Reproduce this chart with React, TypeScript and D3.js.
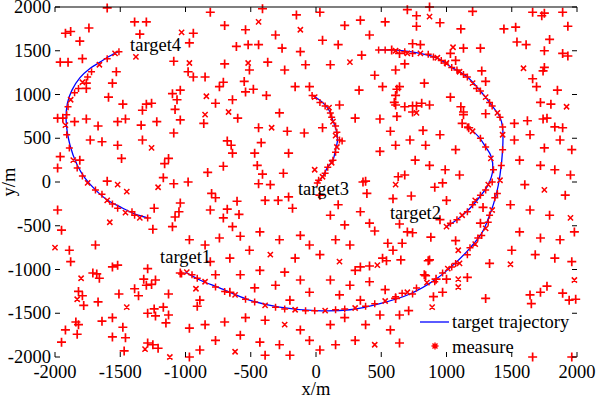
import React from "react";
import * as d3 from "d3";

const W = 596;
const H = 396;
const X_TICKS = [-2000, -1500, -1000, -500, 0, 500, 1000, 1500, 2000];
const Y_TICKS = [-2000, -1500, -1000, -500, 0, 500, 1000, 1500, 2000];

// true trajectories
const TRAJ1: [number, number][] = [
  [-1000, -1030], [-890, -1120], [-740, -1210], [-510, -1350], [-280, -1430], [0, -1470], [260, -1460],
  [490, -1390], [720, -1280], [910, -1120], [1065, -930], [1180, -755], [1270, -585], [1330, -380],
  [1380, -150], [1410, 80], [1430, 370], [1430, 620], [1410, 740], [1350, 870], [1260, 1040],
  [1160, 1200], [1040, 1310], [930, 1415], [800, 1470], [640, 1505], [490, 1510],
];
const TRAJ2: [number, number][] = [
  [1000, -510], [1090, -420], [1180, -300], [1260, -160], [1320, -30], [1355, 140], [1340, 300],
  [1300, 400], [1250, 510], [1165, 630],
];
const TRAJ3: [number, number][] = [
  [10, -10], [50, 60], [90, 170], [130, 250], [150, 370], [165, 480], [155, 590], [130, 700],
  [100, 820], [50, 910], [-30, 995],
];
const TRAJ4: [number, number][] = [
  [-1290, -410], [-1390, -365], [-1500, -285], [-1600, -205], [-1690, -90], [-1770, 45], [-1830, 195],
  [-1885, 420], [-1915, 710], [-1905, 900], [-1870, 1050], [-1810, 1190], [-1730, 1300], [-1655, 1370],
  [-1580, 1440], [-1515, 1490],
];

// measurements originating from targets
const DETECTIONS: [number, number][] = [
  [-1540, 1470], [-1510, 1490], [-1600, 1410], [-1660, 1340], [-1720, 1260], [-1750, 1200], [-1790, 1140],
  [-1820, 1070], [-1850, 1020], [-1880, 940], [-1900, 860], [-1910, 770], [-1920, 650], [-1910, 540],
  [-1890, 390], [-1860, 250], [-1830, 160], [-1790, 70], [-1750, -10], [-1690, -90], [-1640, -140],
  [-1600, -210], [-1560, -250], [-1520, -300], [-1460, -350], [-1410, -340], [-1390, -380], [-1350, -410],
  [-1290, -410],
  [-30, 990], [-10, 970], [30, 910], [70, 870], [100, 850], [110, 790], [120, 740], [130, 690], [150, 640],
  [160, 570], [150, 530], [180, 480], [200, 470], [160, 400], [150, 340], [130, 250], [120, 220], [90, 170],
  [70, 100], [50, 60], [20, 20], [10, -10],
  [1000, -510], [1030, -470], [1080, -430], [1120, -380], [1160, -340], [1200, -260], [1220, -210],
  [1260, -150], [1300, -90], [1320, -30], [1350, 0], [1360, 140], [1340, 270], [1300, 400], [1260, 500],
  [1200, 580], [1160, 630],
  [-1030, -1050], [-990, -1030], [-950, -1060], [-910, -1100], [-850, -1140], [-770, -1200], [-700, -1250],
  [-620, -1290], [-540, -1340], [-470, -1370], [-390, -1410], [-310, -1430], [-240, -1450], [-160, -1460],
  [-80, -1470], [-10, -1470], [70, -1470], [150, -1460], [220, -1450], [300, -1440], [380, -1420],
  [450, -1390], [530, -1360], [610, -1310], [660, -1270], [700, -1260], [740, -1280], [770, -1210],
  [850, -1150], [910, -1140], [970, -1040], [1010, -990], [1040, -970], [1070, -930], [1100, -930],
  [1160, -830], [1180, -750], [1220, -710], [1240, -640], [1270, -610], [1300, -530], [1320, -460],
  [1330, -380], [1350, -320], [1370, -180], [1390, -130], [1410, 20], [1420, 190], [1430, 370], [1430, 540],
  [1430, 630], [1410, 740], [1390, 790], [1350, 870], [1330, 910], [1300, 970], [1260, 1040], [1230, 1070],
  [1200, 1130], [1160, 1200], [1130, 1230], [1100, 1260], [1080, 1280], [1040, 1310], [1000, 1360],
  [990, 1360], [960, 1390], [930, 1420], [900, 1430], [860, 1460], [800, 1470], [740, 1470], [680, 1490],
  [610, 1500], [530, 1510], [480, 1510],
];

// clutter (false alarms) drawn as "+"
const CLUTTER_PLUS: [number, number][] = [
  [-1600, 1990], [-1390, 1830], [-1300, 1830], [-940, 1700], [-1920, 1700], [-1880, 1720], [-1740, 1760],
  [-1350, 1690], [-1810, 1610], [-970, 1590], [-1960, 1370], [-1900, 1370], [-1790, 1410], [-1090, 1380],
  [-610, 1550], [-520, 1570], [-700, 1350], [-1530, 1260], [-980, 1260], [-940, 1200], [-850, 1200],
  [-1560, 1130], [-1760, 1130], [-1760, 1070], [-550, 1150], [-710, 1140], [-740, 1090], [-1040, 1050],
  [-1100, 1010], [-1590, 970], [-1065, 940], [-770, 900], [-640, 940], [-540, 1030], [-1480, 890],
  [-1300, 890], [-1260, 900], [-1330, 820], [-1080, 830], [-600, 730], [-1980, 730], [-1940, 730],
  [-1850, 690], [-1760, 720], [-1670, 640], [-1520, 690], [-1460, 720], [-1340, 650], [-1220, 690],
  [-1040, 710], [-860, 670], [-1640, 460], [-1520, 420], [-1330, 480], [-1090, 560], [-680, 470],
  [-650, 420], [-640, 330], [-1490, 270], [-1130, 270], [-1160, 210], [-710, 180], [-830, 110],
  [-1600, 10], [-1170, 50], [-1090, -20], [-980, 0], [-800, -130], [-770, -180], [-605, -220],
  [-1040, -240], [-1050, -340], [-1240, -300], [-810, -320], [-680, -310], [-590, -370], [-1080, -400],
  [-710, -410], [-640, -510], [-1250, -540], [-1100, -510],
  [-1960, 290], [-1980, 160], [-1980, -320], [-1730, 480], [-1810, 250], [-1690, -720], [-1890, -780],
  [-1950, -550],
  [-1880, -910], [-1710, -1040], [-1680, -1050], [-1660, -1100], [-1560, -970], [-1520, -950],
  [-1290, -990], [-1320, -1110], [-1300, -1180], [-1260, -1170], [-1230, -1120], [-1390, -1220],
  [-1360, -1300], [-1820, -1250], [-1790, -1300], [-1780, -1410], [-1670, -1370], [-1510, -1280],
  [-1130, -1280], [-1040, -1040], [-910, -1420], [-1290, -1500], [-1240, -1450], [-1230, -1530],
  [-1170, -1430], [-1130, -1520], [-1840, -1600], [-1820, -1630], [-1920, -1690], [-1830, -1740],
  [-1950, -1830], [-1640, -1590], [-1560, -1550], [-1480, -1660], [-1560, -1770], [-1460, -1780],
  [-1470, -1930], [-1290, -1840], [-1250, -1860], [-1210, -1900], [-1150, -1610], [-970, -1670],
  [-970, -2000],
  [860, -900], [830, -1060], [920, -1110], [1000, -1110], [1160, -1090], [970, -1260], [900, -1310],
  [640, -1520], [710, -1470], [1300, -1330], [1640, -1290], [1720, -1260], [1770, -1190], [1650, -1390],
  [1890, -1270], [1940, -1350], [1990, -1340], [640, -1840], [1660, -2000], [1960, -2000],
  [700, 1970], [870, 2000], [770, 1900], [770, 1780], [950, 1820], [1200, 1950], [1110, 1750],
  [1440, 1750], [1660, 1940], [1750, 1930], [1730, 1900], [1890, 1940], [1930, 1780], [1530, 1770],
  [1540, 1600], [1610, 1570], [1790, 1630], [1750, 1500], [1890, 1470], [1930, 1440], [740, 1580],
  [800, 1570], [640, 1470], [680, 1350], [1130, 1530], [1030, 1470], [1260, 1530], [1070, 1390],
  [1740, 1270], [1750, 1310], [1270, 1270], [1300, 1150], [830, 1130], [640, 1090], [1660, 1180],
  [1690, 1090], [1850, 1050], [1030, 970], [1110, 860], [1130, 800], [1130, 770], [680, 860], [740, 870],
  [770, 870], [810, 900], [870, 880], [740, 800], [1300, 780], [1720, 910], [1800, 890], [1120, 670],
  [1170, 620], [1520, 670], [1620, 700], [1740, 720], [1770, 730], [1830, 630], [1890, 620], [820, 590],
  [-160, 1090], [-50, 1090], [-380, 990], [-480, 1060], [330, 1050], [510, 1090], [620, 1060], [610, 990],
  [600, 910], [610, 880], [620, 750], [490, 720], [180, 880], [300, 730], [-280, 790], [-440, 620],
  [-220, 580], [-90, 560], [50, 620], [570, 580], [610, 420], [490, 350], [-420, 450], [-210, 330],
  [-470, 330], [-450, 190], [-410, 90], [-250, 100], [-440, -20], [-350, -30], [-390, -210], [-290, -210],
  [-210, -170], [-180, -300], [30, -150], [170, -260], [390, -130], [380, 10], [630, 60], [590, -190],
  [360, 0], [910, -60], [970, -10], [730, -160], [1000, -210], [410, -470], [450, -560], [640, -480],
  [700, -570], [740, -580], [550, -700], [660, -700], [590, -780], [510, -870], [540, -900], [650, -890],
  [880, -630], [950, -430], [1070, -670], [870, -890], [340, -970], [410, -960], [840, -1070],
  [1330, -930], [1280, -290], [1260, -470],
  [-410, 1980], [-150, 1910], [30, 1940], [-310, 1680], [-440, 1570], [-260, 1530], [-120, 1490],
  [50, 1620], [170, 1570], [220, 1790], [340, 1850], [410, 1680], [530, 1830], [580, 1510], [350, 1450],
  [110, 1340], [-80, 1340], [-240, 1280], [-370, 1370], [610, 1280], [450, 1220], [-510, 1280],
  [-540, 1740], [-810, 1940], [-700, 1790],
  [-970, -660], [-850, -720], [-740, -640], [-580, -620], [-430, -570], [-280, -660], [-120, -610],
  [-50, -720], [-510, -780], [-660, -870], [-810, -910], [-160, -870], [-430, -1010], [-240, -1030],
  [-580, -1060], [-770, -1060], [-120, -1120], [-310, -1180], [-470, -1210], [-660, -1260], [-50, -1260],
  [-890, -1350], [-200, -1350], [-390, -1580], [-540, -1550], [-700, -1600], [-850, -1630], [-120, -1690],
  [-580, -1750], [-770, -1810], [-430, -1830], [-280, -1860], [-50, -1810], [-390, -1980], [-890, -1920],
  [-200, -1980],
  [110, -380], [220, -490], [340, -340], [150, -660], [260, -720], [30, -830], [300, -1010], [110, -1120],
  [260, -1180], [410, -1140], [530, -1230], [180, -1290], [340, -1350], [610, -1330], [110, -1630],
  [220, -1550], [380, -1630], [490, -1520], [150, -1860], [300, -1810], [570, -1690], [30, -1920],
  [1520, 480], [1640, 540], [1750, 390], [1870, 480], [1960, 370], [1560, 250], [1720, 190], [1830, 140],
  [1950, 80], [1600, -30], [1910, -150], [1490, -260], [1640, -320], [1790, -380], [1560, -570],
  [1720, -640], [1870, -660], [1980, -570], [1500, -780], [1680, -830], [1830, -870], [1960, -910],
  [720, 480], [840, 420], [950, 540], [1070, 370], [760, 250], [870, 190], [990, 140], [1100, 80], [680, 80],
];

// clutter drawn as "x"
const CLUTTER_CROSS: [number, number][] = [
  [-1030, 1710], [-1380, 1430], [-970, 1360], [-520, 1360], [-840, 980], [-850, 770], [-670, 800],
  [-1260, 390], [-1520, -30], [-1450, -110], [-1210, -60], [-1580, -460], [-1800, -1100], [-1830, -1340],
  [-1450, -1430], [-920, -1220], [-1310, -1910], [-1120, -2000], [1090, -1110], [1090, -1200],
  [890, -1430], [1490, -940], [1980, -1120], [870, 1890], [700, 1470], [1050, 1540], [1590, 1300],
  [770, 790], [1920, 860], [-340, 620], [-10, 140], [610, -30], [1090, -780], [470, -950], [-2000, -750],
  [-120, 1740], [260, 1370], [-440, 1830], [-350, -830], [-240, -1630], [-620, -1940], [180, -910],
  [450, -1860], [1750, -90], [1950, -410],
];

const TARGET_LABELS = [
  { text: "target1", x: -1195, y: -857 },
  { text: "target2", x: 567, y: -354 },
  { text: "target3", x: -138, y: -80 },
  { text: "target4", x: -1425, y: 1566 },
];

const FONT = "'Liberation Serif', 'Times New Roman', serif";
const RED = "#ff0000";
const BLUE = "#0000ff";

export default function App() {
  const x = d3.scaleLinear().domain([-2000, 2000]).range([55, 577]);
  const y = d3.scaleLinear().domain([-2000, 2000]).range([357, 7]);
  const line = d3
    .line<[number, number]>()
    .x((d) => x(d[0]))
    .y((d) => y(d[1]))
    .curve(d3.curveCatmullRom.alpha(0.5));

  const plus = (cx: number, cy: number, r: number) => `M${cx - r},${cy}H${cx + r}M${cx},${cy - r}V${cy + r}`;
  const cross = (cx: number, cy: number, r: number) =>
    `M${cx - r},${cy - r}L${cx + r},${cy + r}M${cx - r},${cy + r}L${cx + r},${cy - r}`;

  const [x0, x1] = x.range();
  const [yb, yt] = y.range();

  return (
    <svg width={W} height={H} style={{ position: "absolute", left: 0, top: 0, background: "#fff" }} fontFamily={FONT}>
      <rect x={0} y={0} width={W} height={H} fill="#fff" />
      {[TRAJ1, TRAJ2, TRAJ3, TRAJ4].map((t, i) => (
        <path key={i} d={line(t) || ""} fill="none" stroke={BLUE} strokeWidth={1.3} />
      ))}
      <path
        d={CLUTTER_PLUS.map((d) => plus(x(d[0]), y(d[1]), 4.5)).join("")}
        stroke={RED}
        strokeWidth={1.7}
        fill="none"
      />
      <path
        d={CLUTTER_CROSS.map((d) => cross(x(d[0]), y(d[1]), 2.6)).join("")}
        stroke={RED}
        strokeWidth={1.5}
        fill="none"
      />
      <path
        d={DETECTIONS.map((d, i) =>
          i % 3 === 0 ? cross(x(d[0]), y(d[1]), 2.6) : plus(x(d[0]), y(d[1]), 3.5)
        ).join("")}
        stroke={RED}
        strokeWidth={1.5}
        fill="none"
      />
      <line x1={x0} x2={x1} y1={yt} y2={yt} stroke="#000" strokeWidth={1.2} />
      {X_TICKS.map((t) => (
        <g key={"xt" + t}>
          <line x1={x(t)} x2={x(t)} y1={yb} y2={yb - 5} stroke="#000" strokeWidth={1} />
          <line x1={x(t)} x2={x(t)} y1={yt} y2={yt + 5} stroke="#000" strokeWidth={1} />
          <text x={x(t)} y={378} textAnchor="middle" fontSize={18.5} fill="#000">
            {t}
          </text>
        </g>
      ))}
      {Y_TICKS.map((t) => (
        <g key={"yt" + t}>
          <line x1={x0} x2={x0 + 5} y1={y(t)} y2={y(t)} stroke="#000" strokeWidth={1} />
          <line x1={x1} x2={x1 - 5} y1={y(t)} y2={y(t)} stroke="#000" strokeWidth={1} />
          <text x={51} y={y(t)} dy="0.33em" textAnchor="end" fontSize={18.5} fill="#000">
            {t}
          </text>
        </g>
      ))}
      <text x={x(0)} y={395} textAnchor="middle" fontSize={18.5} fill="#000">
        x/m
      </text>
      <text transform={`translate(15,${y(0)}) rotate(-90)`} textAnchor="middle" fontSize={18.5} fill="#000">
        y/m
      </text>
      {TARGET_LABELS.map((l) => (
        <text key={l.text} x={x(l.x)} y={y(l.y)} dy="0.33em" fontSize={18.5} fill="#000">
          {l.text}
        </text>
      ))}
      <line x1={420} x2={449} y1={322} y2={322} stroke={BLUE} strokeWidth={1.3} />
      <text x={452} y={328} fontSize={18.5} fill="#000">
        target trajectory
      </text>
      <path d={plus(435, 346, 3.5) + cross(435, 346, 2.5)} stroke={RED} strokeWidth={1.4} fill="none" />
      <text x={452} y={353} fontSize={18.5} fill="#000">
        measure
      </text>
    </svg>
  );
}
